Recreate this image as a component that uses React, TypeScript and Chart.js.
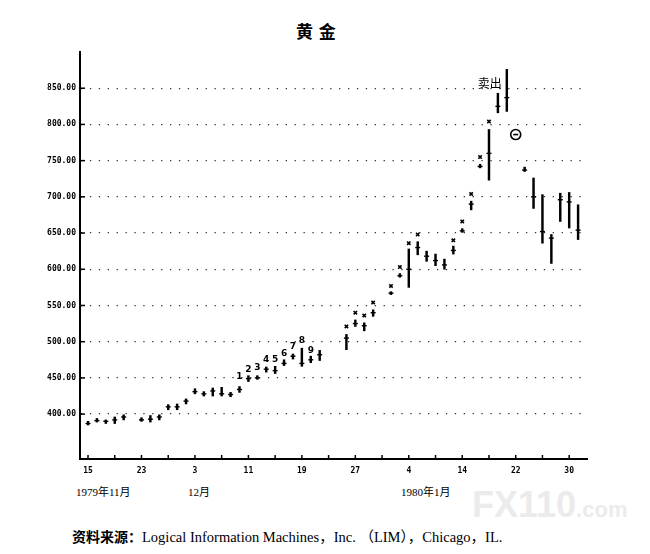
import React, { useEffect, useRef } from 'react';
import { Chart, registerables } from 'chart.js';

Chart.register(...registerables);

// one slot per weekday (holidays keep their slot, they just have no bar)
const tradingDays = [
  '1979-11-15', '1979-11-16', '1979-11-19', '1979-11-20', '1979-11-21', '1979-11-22', '1979-11-23',
  '1979-11-26', '1979-11-27', '1979-11-28', '1979-11-29', '1979-11-30',
  '1979-12-03', '1979-12-04', '1979-12-05', '1979-12-06', '1979-12-07',
  '1979-12-10', '1979-12-11', '1979-12-12', '1979-12-13', '1979-12-14',
  '1979-12-17', '1979-12-18', '1979-12-19', '1979-12-20', '1979-12-21',
  '1979-12-24', '1979-12-25', '1979-12-26', '1979-12-27', '1979-12-28', '1979-12-31',
  '1980-01-01', '1980-01-02', '1980-01-03', '1980-01-04',
  '1980-01-07', '1980-01-08', '1980-01-09', '1980-01-10', '1980-01-11',
  '1980-01-14', '1980-01-15', '1980-01-16', '1980-01-17', '1980-01-18',
  '1980-01-21', '1980-01-22', '1980-01-23', '1980-01-24', '1980-01-25',
  '1980-01-28', '1980-01-29', '1980-01-30', '1980-01-31',
];

const lows: (number | null)[] = [
  385, 389, 387, 387, 392, null, 390, 389, 392, 406, 406, 414,
  428, 425, 425, 425, 424, 430, 445, 448, 458, 456, 467, 476, 466, 471, 474,
  null, null, 489, 521, 515, 535,
  null, 565, 589, 575, 620, 611, 605, 600, 621, 651, 682, 740, 723, 816, 818,
  null, 735, 684, 636, 608, 666, 657, 641,
];

const highs: (number | null)[] = [
  390, 394, 392, 396, 399, null, 395, 398, 399, 413, 414, 421,
  435, 431, 436, 437, 430, 438, 453, 453, 465, 466, 475, 483, 491, 480, 488,
  null, null, 510, 530, 526, 544,
  null, 569, 594, 628, 638, 625, 621, 614, 632, 656, 694, 745, 793, 843, 876,
  null, 741, 726, 703, 648, 705, 706, 689,
];

const closes: (number | null)[] = [
  387, 391, 390, 392, 396, null, 392, 393, 396, 410, 410, 418,
  431, 428, 432, 428, 427, 434, 449, 450, 462, 460, 470, 480, 470, 475, 482,
  null, null, 505, 525, 522, 540,
  null, 567, 591, 600, 630, 618, 612, 606, 626, 653, 690, 742, 760, 825, 837,
  null, 737, 700, 652, 643, 696, 693, 654,
];

// "x" marks above the bars
const crossIdx = [29, 30, 31, 32, 34, 35, 36, 37, 41, 42, 43, 44, 45];
const crossVals = [521, 540, 536, 554, 577, 603, 636, 648, 640, 666, 704, 755, 804];

// counted days 1..9
const countLabels = ['1', '2', '3', '4', '5', '6', '7', '8', '9'];
const countIdx = [17, 18, 19, 20, 21, 22, 23, 24, 25];
const countVals = [452, 462, 464, 475, 475, 483, 493, 501, 488];

const sellText = '卖出';
const sellIdx = 47;
const sellVal = 857;

const stopIdx = 48;
const stopVal = 786;

const yTicks = [400, 450, 500, 550, 600, 650, 700, 750, 800, 850];

const tickFont = { family: '"DejaVu Sans Mono", monospace', size: 8, weight: 'bold' as const };

const marksPlugin = {
  id: 'bookMarks',
  afterDatasetsDraw(chart: any) {
    const { ctx, chartArea, scales } = chart;
    const x = scales.x;
    const y = scales.y;
    ctx.save();
    ctx.strokeStyle = '#000';
    ctx.fillStyle = '#000';
    ctx.lineWidth = 1.5;

    // ticks point inward, like the printed chart
    x.ticks.forEach((t: any) => {
      const px = x.getPixelForValue(t.value);
      ctx.beginPath();
      ctx.moveTo(px, chartArea.bottom);
      ctx.lineTo(px, chartArea.bottom - 4);
      ctx.stroke();
    });
    y.ticks.forEach((t: any) => {
      const py = y.getPixelForValue(t.value);
      ctx.beginPath();
      ctx.moveTo(chartArea.left, py);
      ctx.lineTo(chartArea.left + 5, py);
      ctx.stroke();
    });

    ctx.font = 'bold 9px "DejaVu Sans", sans-serif';
    ctx.textAlign = 'center';
    ctx.textBaseline = 'middle';
    countIdx.forEach((d, k) => {
      ctx.fillText(countLabels[k], x.getPixelForValue(d), y.getPixelForValue(countVals[k]));
    });

    ctx.font = '12px "Noto Sans CJK SC", sans-serif';
    ctx.textAlign = 'right';
    ctx.fillText(sellText, x.getPixelForValue(sellIdx) - 5, y.getPixelForValue(sellVal));

    const cx = x.getPixelForValue(stopIdx);
    const cy = y.getPixelForValue(stopVal);
    ctx.lineWidth = 1.6;
    ctx.beginPath();
    ctx.arc(cx, cy, 5, 0, Math.PI * 2);
    ctx.stroke();
    ctx.beginPath();
    ctx.moveTo(cx - 2.5, cy);
    ctx.lineTo(cx + 2.5, cy);
    ctx.stroke();
    ctx.restore();
  },
};

const GoldChart: React.FC = () => {
  const canvasRef = useRef<HTMLCanvasElement>(null);
  const chartRef = useRef<Chart | null>(null);

  useEffect(() => {
    if (!canvasRef.current) return;
    if (chartRef.current) chartRef.current.destroy();

    const bars = tradingDays
      .map((_, i) => (lows[i] == null ? null : { x: i, y: [lows[i], highs[i]] }))
      .filter(Boolean);
    const closePts = tradingDays
      .map((_, i) => (closes[i] == null ? null : { x: i, y: closes[i] }))
      .filter(Boolean);
    const crossPts = crossIdx.map((d, k) => ({ x: d, y: crossVals[k] }));

    chartRef.current = new Chart(canvasRef.current, {
      type: 'bar',
      data: {
        datasets: [
          {
            label: 'range',
            data: bars as any,
            backgroundColor: '#000',
            borderWidth: 0,
            barThickness: 1.8,
            grouped: false,
          },
          {
            type: 'scatter',
            label: 'close',
            data: closePts as any,
            pointStyle: 'line',
            radius: 2.5,
            borderWidth: 1.4,
            borderColor: '#000',
          } as any,
          {
            type: 'scatter',
            label: 'x',
            data: crossPts,
            pointStyle: 'crossRot',
            radius: 2.4,
            borderWidth: 1.6,
            borderColor: '#000',
          } as any,
        ],
      },
      options: {
        animation: false,
        responsive: true,
        maintainAspectRatio: false,
        events: [],
        layout: { padding: { left: 0, top: 52, right: 63, bottom: 1 } },
        plugins: {
          legend: { display: false },
          tooltip: { enabled: false },
        },
        scales: {
          x: {
            type: 'linear',
            offset: false,
            min: -0.9,
            max: 56,
            afterBuildTicks: (scale: any) => {
              scale.ticks = tradingDays
                .map((_, i) => i)
                .filter((i) => i % 3 === 0)
                .map((value) => ({ value }));
            },
            afterFit: (scale: any) => {
              scale.height = 20;
            },
            ticks: {
              autoSkip: false,
              maxRotation: 0,
              padding: 7,
              color: '#000',
              font: tickFont,
              callback: (value: any) =>
                value % 6 === 0 ? String(Number(tradingDays[value].slice(8))) : '',
            },
            grid: { display: false, drawTicks: false },
            border: { display: true, color: '#000', width: 2 },
          },
          y: {
            type: 'linear',
            min: 338,
            max: 900,
            beginAtZero: false,
            afterBuildTicks: (scale: any) => {
              scale.ticks = yTicks.map((value) => ({ value }));
            },
            afterFit: (scale: any) => {
              scale.width = 80;
            },
            ticks: {
              padding: 4,
              color: '#000',
              font: tickFont,
              callback: (value: any) => Number(value).toFixed(2),
            },
            grid: { color: '#333', lineWidth: 1.3, drawTicks: false },
            border: { display: true, color: '#000', width: 2, dash: [1.3, 7.6] },
          },
        },
      },
      plugins: [marksPlugin],
    });

    return () => {
      if (chartRef.current) {
        chartRef.current.destroy();
        chartRef.current = null;
      }
    };
  }, []);

  return (
    <div style={{ position: 'absolute', left: 0, top: 0, width: 650, height: 480 }}>
      <canvas ref={canvasRef} />
    </div>
  );
};

const serif = '"Liberation Serif", "Noto Sans CJK SC", serif';

export default function App() {
  return (
    <div
      style={{
        position: 'absolute',
        left: 0,
        top: 0,
        width: 650,
        height: 554,
        background: '#fff',
        overflow: 'hidden',
        color: '#000',
      }}
    >
      <div
        style={{
          position: 'absolute',
          left: 296,
          top: 22,
          fontFamily: '"Noto Sans CJK SC", sans-serif',
          fontWeight: 'bold',
          fontSize: 17,
          lineHeight: 1,
          letterSpacing: 1,
          whiteSpace: 'nowrap',
        }}
      >
        黄 金
      </div>
      <GoldChart />
      <div style={{ position: 'absolute', left: 76, top: 487, fontFamily: serif, fontSize: 11, lineHeight: 1, whiteSpace: 'nowrap' }}>
        1979年11月
      </div>
      <div style={{ position: 'absolute', left: 188, top: 487, fontFamily: serif, fontSize: 11, lineHeight: 1, whiteSpace: 'nowrap' }}>
        12月
      </div>
      <div style={{ position: 'absolute', left: 401, top: 487, fontFamily: serif, fontSize: 11, lineHeight: 1, whiteSpace: 'nowrap' }}>
        1980年1月
      </div>
      <div
        style={{
          position: 'absolute',
          left: 472,
          top: 487,
          color: '#ebebeb',
          fontFamily: '"Liberation Sans", sans-serif',
          fontWeight: 'bold',
          lineHeight: 1,
          whiteSpace: 'nowrap',
        }}
      >
        <span style={{ fontSize: 36 }}>FX110</span>
        <span style={{ fontSize: 22 }}>.com</span>
      </div>
      <div style={{ position: 'absolute', left: 72, top: 529, fontSize: 14, lineHeight: 1, whiteSpace: 'nowrap' }}>
        <span style={{ fontFamily: '"Noto Sans CJK SC", sans-serif', fontWeight: 'bold' }}>资料来源：</span>
        <span style={{ fontFamily: serif, fontSize: 14.5 }}>Logical Information Machines，Inc. （LIM），Chicago，IL.</span>
      </div>
    </div>
  );
}
